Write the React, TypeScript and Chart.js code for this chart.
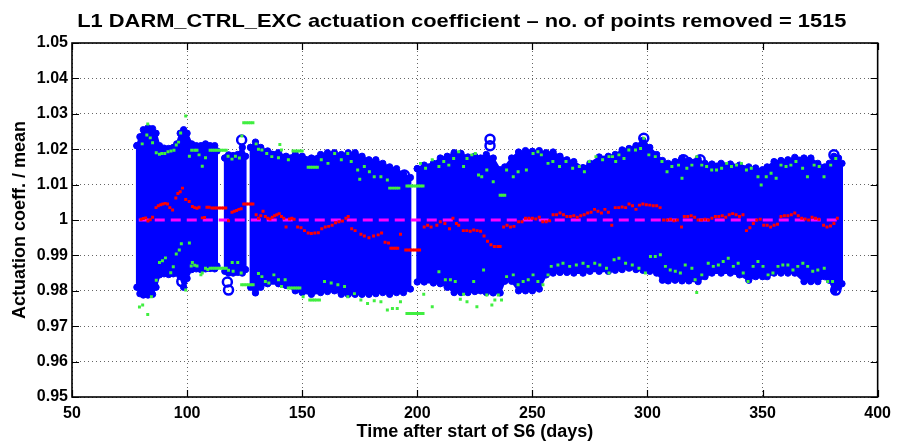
import React, { useEffect, useRef } from 'react';
import { Chart, registerables } from 'chart.js';

Chart.register(...registerables);

const TITLE = 'L1 DARM_CTRL_EXC actuation coefficient \u2013 no. of points removed = 1515';
const X_TITLE = 'Time after start of S6 (days)';
const Y_TITLE = 'Actuation coeff. / mean';

const xTickValues = [50, 100, 150, 200, 250, 300, 350, 400];
const xTickLabels = ['50', '100', '150', '200', '250', '300', '350', '400'];
const yTickValues = [0.95, 0.96, 0.97, 0.98, 0.99, 1.0, 1.01, 1.02, 1.03, 1.04, 1.05];
const yTickLabels = ['0.95', '0.96', '0.97', '0.98', '0.99', '1', '1.01', '1.02', '1.03', '1.04', '1.05'];

// Envelope of the blue cloud of individual measurements: [day, upper, lower]; null = data gap
const blueCloud: ([number, number, number] | null)[] = [
  [78.2, 1.021, 0.981], [79.5, 1.0235, 0.9792], [81, 1.0255, 0.9788], [83, 1.026, 0.9788], [85, 1.0258, 0.979],
  [86.5, 1.0245, 0.981], [88, 1.021, 0.9845], [90, 1.0203, 0.9848], [92, 1.0202, 0.9846], [94, 1.0205, 0.9848],
  [95.5, 1.0215, 0.985], [97, 1.0245, 0.984], [98.5, 1.0255, 0.981], [100, 1.0245, 0.9835], [102, 1.0215, 0.986],
  [104, 1.021, 0.9862], [106, 1.021, 0.986], [108, 1.0215, 0.9862], [110, 1.021, 0.9863], [112, 1.021, 0.9862],
  [113, 1.0195, 0.987],
  null,
  [116.4, 1.0175, 0.9855], [118, 1.0184, 0.985], [120, 1.0182, 0.985], [122, 1.0185, 0.9852], [124, 1.0205, 0.985],
  [125.4, 1.018, 0.986],
  null,
  [127.6, 1.0205, 0.981], [129.7, 1.022, 0.9794], [132, 1.0205, 0.981], [135, 1.0195, 0.982], [139.7, 1.019, 0.982],
  [143, 1.018, 0.9815], [147, 1.0185, 0.98], [150, 1.018, 0.9795], [154, 1.0175, 0.979], [158, 1.0185, 0.9795],
  [161, 1.019, 0.9798], [164, 1.019, 0.98], [167, 1.0185, 0.979], [170, 1.019, 0.979], [173, 1.019, 0.979],
  [176, 1.018, 0.979], [179, 1.017, 0.979], [182, 1.017, 0.9792], [185, 1.016, 0.9795], [188, 1.015, 0.979],
  [191, 1.0145, 0.9795], [194, 1.013, 0.9795], [197, 1.012, 0.9805],
  null,
  [200, 1.0145, 0.9825], [203, 1.0155, 0.9825], [207, 1.016, 0.9822], [210, 1.0175, 0.982], [213, 1.018, 0.981],
  [216, 1.019, 0.9795], [219, 1.0188, 0.9795], [222, 1.0178, 0.9795], [225, 1.018, 0.9798], [227.5, 1.0175, 0.98],
  [230, 1.0185, 0.9795], [233, 1.0175, 0.9794], [236, 1.0142, 0.9794], [238, 1.015, 0.9827], [241, 1.0175, 0.9827],
  [244, 1.0192, 0.98], [247, 1.0196, 0.98], [250, 1.0194, 0.98], [253, 1.0196, 0.9805], [256, 1.019, 0.9845],
  [259, 1.0192, 0.985], [262, 1.018, 0.9852], [265, 1.017, 0.9852], [268, 1.0165, 0.985], [272, 1.0148, 0.985],
  [275, 1.016, 0.9855], [279, 1.0178, 0.9855], [283, 1.018, 0.9855], [286, 1.0185, 0.9858], [289, 1.0198, 0.986],
  [292, 1.0202, 0.9864], [295, 1.021, 0.986], [298, 1.0225, 0.9858], [301, 1.0205, 0.9855], [304, 1.0185, 0.985],
  [306.5, 1.0168, 0.983], [309, 1.016, 0.9828], [312, 1.0165, 0.983], [315, 1.0175, 0.9828], [318, 1.0168, 0.9828],
  [322, 1.0172, 0.9826], [325, 1.016, 0.984], [328, 1.0158, 0.985], [332, 1.016, 0.985], [336, 1.0158, 0.985],
  [340, 1.0155, 0.9845], [344, 1.015, 0.983], [347, 1.0147, 0.984], [350, 1.0142, 0.984], [352, 1.015, 0.984],
  [355, 1.0165, 0.985], [358, 1.0168, 0.985], [361, 1.017, 0.985], [364, 1.0177, 0.985], [368, 1.0175, 0.9826],
  [371, 1.0175, 0.9826], [374, 1.016, 0.9826], [377, 1.015, 0.984], [379, 1.016, 0.983], [381, 1.018, 0.98],
  [383, 1.0175, 0.981], [384.5, 1.016, 0.982],
];

// isolated open circles sticking out of the cloud: [day, value]
const blueOutliers: [number, number][] = [
  [97.7, 0.9826], [118, 0.9802], [117.5, 0.9825], [123.7, 1.0226], [194.4, 1.0127],
  [231.6, 1.0228], [231.6, 1.021], [298.4, 1.0231], [315.7, 1.017], [322.9, 1.017],
  [381.8, 0.9802], [381, 1.0184],
];

// daily means (red)
const redMeans: [number, number][] = [
  [80, 1.0002], [81, 1.0004], [82, 1.0006], [83, 0.9997], [84, 1.0001], [85, 1.0008], [86.5, 1.0035],
  [87.5, 1.004], [88.5, 1.0043], [89.5, 1.0045], [90.5, 1.0047], [91.5, 1.0045], [92.5, 1.0035], [93.7, 1.0028],
  [95.1, 1.0062], [96, 1.0075], [97, 1.008], [98, 1.009], [99.4, 1.0058], [100.9, 1.0052], [102.3, 1.0038],
  [103.3, 1.0035], [104.3, 1.0033], [105.2, 1.0036], [106.6, 1.0006], [107.6, 1.0007], [108.6, 1.0036],
  [109.6, 1.0036], [110.8, 1.0034], [111.8, 1.0034], [112.8, 1.0034], [113.8, 1.0034], [114.8, 1.0034],
  [115.8, 1.0034], [116.8, 1.0034], [118, 0.9998], [119.5, 1.0022], [120.5, 1.0025], [121.5, 1.0027],
  [122.5, 1.003], [123.5, 1.0032], [124.6, 1.0045], [125.6, 1.0045], [126.6, 1.0045], [127.6, 1.0045],
  [128.6, 1.0045], [130, 1.0015], [131, 1.0005], [132, 1.0012], [133, 1.0025], [134, 1.001], [135, 1.0005],
  [136, 1.0003], [137, 1.0008], [138, 1.0012], [139, 1.0015], [140, 1.0018], [141, 1.001], [142, 1.0005],
  [143, 0.998], [144.5, 1.0003], [145.5, 1.0005], [146.5, 1.0002], [148, 0.998], [149.5, 0.9978], [151, 0.997],
  [152.6, 0.9963], [154, 0.9962], [155.5, 0.9963], [157, 0.9964], [158.5, 0.9975], [160, 0.998], [161.5, 0.9982],
  [163, 0.9985], [164.5, 0.9992], [166, 0.9995], [167.5, 0.9997], [169, 1.0005], [170, 1.001], [171.5, 0.9975],
  [173, 0.997], [175.5, 0.996], [177, 0.9955], [179, 0.995], [181, 0.9955], [183, 0.9958], [184.5, 0.9963],
  [186, 0.9937], [187.5, 0.9935], [188.5, 0.992], [189.5, 0.992], [190.5, 0.992], [191.5, 0.992], [192.7, 0.996],
  [195, 0.9915], [196, 0.9915], [197, 0.9915], [198, 0.9915], [199, 0.9915], [200, 0.9915], [201, 0.9915],
  [203, 0.998], [204.5, 0.9985], [206, 0.998], [208.5, 0.9985], [210, 0.9995], [212, 0.999], [214, 0.9975],
  [215.5, 1.0005], [217, 0.999], [218, 0.9985], [220, 0.997], [221.5, 0.997], [223, 0.9968], [224.5, 0.9972],
  [226, 0.997], [227.5, 0.9968], [229, 0.9955], [230.5, 0.994], [232, 0.993], [233.5, 0.9925], [235, 0.9925],
  [236, 0.9925], [237.5, 0.998], [239, 0.9985], [240.5, 0.998], [242, 0.9982], [244, 0.9995], [245.5, 0.9995],
  [247, 1.0005], [248.5, 1.0005], [250, 1.0005], [251.5, 1.0003], [253, 1.0008], [254.5, 0.9995], [256, 0.9995],
  [257.5, 0.9998], [259, 1.0015], [260.5, 1.0015], [262, 1.002], [263.5, 1.0015], [265, 1.001], [266.5, 1.001],
  [268, 1.0012], [269.5, 1.0008], [271, 1.0012], [272.5, 1.0015], [274, 1.002], [275.5, 1.0022], [277, 1.003],
  [278.5, 1.0025], [280, 1.002], [281.5, 1.003], [283, 1.0022], [284.5, 0.9985], [286, 1.0035], [287.5, 1.0035],
  [289, 1.0037], [290.5, 1.0035], [292, 1.0045], [293.5, 1.004], [295, 1.003], [296.5, 1.0042], [298, 1.0045],
  [299.5, 1.0043], [301, 1.0042], [302.5, 1.004], [304, 1.004], [305.5, 1.0035], [307, 1.0], [308.5, 1.0],
  [310, 1.0002], [311.5, 0.9998], [313, 1.0], [314.8, 0.998], [316, 1.001], [317.5, 1.001], [319, 1.0012],
  [320.5, 1.0008], [322, 1.0], [323.5, 1.0], [325, 1.0002], [326.5, 1.0], [328, 1.0005], [329.5, 1.001],
  [331, 1.001], [332.5, 1.0012], [334, 1.0008], [335.5, 1.0015], [337, 1.0018], [338.5, 1.0015], [340, 1.001],
  [341.5, 1.0015], [343, 0.997], [344.5, 0.9978], [346, 0.999], [347.5, 1.0], [349, 1.0002], [350.5, 0.9985],
  [352, 0.9985], [353.5, 0.998], [355, 0.9985], [356.5, 0.9988], [358, 1.001], [359.5, 1.0012], [361, 1.0012],
  [362.5, 1.0015], [364, 1.002], [365.5, 1.0012], [367, 1.0005], [368.5, 1.0003], [370, 1.0], [371.5, 1.0008],
  [373, 1.0005], [374.5, 1.0002], [376.5, 0.9985], [378, 0.998], [379.5, 0.9983], [381, 0.999], [382.5, 1.0005],
];

// daily upper extremes (green)
const greenUpper: [number, number][] = [
  [80.5, 1.0215], [82.5, 1.024], [82.9, 1.0271], [84, 1.0232], [85, 1.0218], [86.6, 1.019], [88, 1.0186],
  [89, 1.0188], [90.3, 1.0188], [91.7, 1.0193], [93, 1.0195], [94.3, 1.0197], [95.3, 1.0212], [96.3, 1.022],
  [97.2, 1.0246], [99.4, 1.0294], [101, 1.018], [102, 1.0197], [103.3, 1.0197], [104.3, 1.0197], [105.2, 1.0184],
  [106.6, 1.0152], [108, 1.0176], [110, 1.0197], [111, 1.0197], [112, 1.0197], [113, 1.0197], [114, 1.0197],
  [115, 1.0197], [116, 1.0197], [117, 1.0197], [117.8, 1.018], [119.5, 1.0172], [121, 1.018], [122.7, 1.0175],
  [123.8, 1.0237], [124.6, 1.0275], [125.6, 1.0275], [126.6, 1.0275], [127.6, 1.0275], [128.6, 1.0275],
  [130, 1.0215], [131, 1.02], [132.5, 1.0198], [134.6, 1.0188], [136.8, 1.0179], [139.7, 1.0176], [140.3, 1.0213],
  [141, 1.0198], [144, 1.017], [146, 1.0195], [147, 1.0195], [148, 1.0195], [149, 1.0195], [150, 1.0195],
  [152.6, 1.0149], [153.6, 1.0149], [154.6, 1.0149], [155.6, 1.0149], [156.6, 1.0149], [158.3, 1.017],
  [161.2, 1.016], [164.1, 1.0188], [167, 1.017], [169.8, 1.0188], [171.3, 1.0165], [174.1, 1.0141],
  [175, 1.0115], [177, 1.0151], [179.2, 1.0136], [181.3, 1.0122], [184.2, 1.0122], [187, 1.0113],
  [188, 1.009], [189, 1.009], [190, 1.009], [191, 1.009], [192, 1.009],
  [195.5, 1.0096], [196.5, 1.0096], [197.5, 1.0096], [198.5, 1.0096], [199.5, 1.0096], [200.5, 1.0096],
  [201.5, 1.0096], [202.5, 1.0096], [201.4, 1.016], [203.6, 1.0146], [206.5, 1.017], [209.4, 1.0151],
  [211.5, 1.0165], [213.7, 1.0155], [215.8, 1.0174], [218, 1.0193], [220.1, 1.0151], [221.6, 1.0174],
  [223.7, 1.0184], [225.2, 1.0188], [226.6, 1.0127], [228, 1.0122], [230.2, 1.0141], [233, 1.0108],
  [236, 1.007], [237, 1.007], [238, 1.007], [238.8, 1.0141], [241.7, 1.0122], [243.8, 1.0136], [247.4, 1.0141],
  [250.3, 1.0188], [252.4, 1.0193], [253.9, 1.0184], [256.8, 1.016], [258.9, 1.0165], [261.8, 1.0151],
  [264.6, 1.0165], [267.5, 1.0146], [270.4, 1.0151], [272.6, 1.0136], [274.7, 1.0165], [277.6, 1.0179],
  [280.5, 1.017], [283.3, 1.0179], [284.8, 1.0179], [286.2, 1.0165], [287.6, 1.0184], [289.8, 1.0174],
  [291.9, 1.0198], [294.8, 1.0198], [297, 1.0202], [298.4, 1.0231], [300.6, 1.0184], [303.4, 1.0179],
  [306.3, 1.0165], [308.5, 1.0136], [310.6, 1.0151], [313.5, 1.0155], [315, 1.0118], [317.1, 1.0146],
  [319.3, 1.0155], [321.4, 1.0179], [323.6, 1.0155], [325.7, 1.0151], [327.9, 1.0141], [330, 1.0141],
  [332.2, 1.0146], [334.4, 1.016], [336.5, 1.0151], [338.7, 1.0155], [340.8, 1.016], [343, 1.0141],
  [345.1, 1.0146], [348, 1.0122], [349.4, 1.0099], [351.6, 1.0122], [353.7, 1.0132], [355.9, 1.0118],
  [358, 1.0155], [360.2, 1.0151], [362.3, 1.0155], [364.5, 1.0165], [367.4, 1.0146], [369.5, 1.0122],
  [372.4, 1.0155], [374.6, 1.0151], [376.7, 1.0122], [379.6, 1.0155], [381.8, 1.0174],
];

// daily lower extremes (green)
const greenLower: [number, number][] = [
  [79.3, 0.9754], [80.7, 0.976], [82.9, 0.9733], [84.5, 0.9783], [86.6, 0.983], [88, 0.988], [89.3, 0.9885],
  [90.6, 0.9893], [92.9, 0.9851], [94, 0.9868], [95.3, 0.9904], [96.6, 0.9915], [97.5, 0.9933], [99.4, 0.9802],
  [101, 0.9935], [101.8, 0.987], [102.3, 0.988], [103.3, 0.9872], [104.3, 0.987], [106, 0.9845], [106.6, 0.985],
  [108, 0.9864], [109, 0.986], [110, 0.9864], [111, 0.9864], [112, 0.9864], [113, 0.9864], [114, 0.9864],
  [115, 0.9864], [116, 0.9864], [117, 0.9864], [118, 0.9858], [119.6, 0.988], [120, 0.9855], [122, 0.988],
  [123.5, 0.985], [123.7, 0.9817], [124.7, 0.9817], [125.7, 0.9817], [126.7, 0.9817], [127.7, 0.9817],
  [128.7, 0.9817], [131, 0.9849], [132.5, 0.984], [134, 0.9826], [135.5, 0.9822], [137.7, 0.9845],
  [139.7, 0.9831], [141, 0.9812], [142.6, 0.9831], [144, 0.9808], [145, 0.9808], [146, 0.9808], [147, 0.9808],
  [148, 0.9808], [149, 0.9808], [150.4, 0.9783], [153.3, 0.9774], [154.3, 0.9774], [155.3, 0.9774],
  [156.3, 0.9774], [157.5, 0.9774], [159.7, 0.9826], [162.6, 0.9822], [165.5, 0.9817], [168.4, 0.9812],
  [169.8, 0.9783], [172.7, 0.9792], [175.5, 0.9774], [178.4, 0.9764], [181.3, 0.9772], [184.2, 0.9769],
  [187, 0.9746], [189.2, 0.975], [191.3, 0.975], [192.7, 0.9769], [195.5, 0.9736], [196.5, 0.9736],
  [197.5, 0.9736], [198.5, 0.9736], [199.5, 0.9736], [200.5, 0.9736], [201.5, 0.9736], [202.5, 0.9736],
  [202.8, 0.979], [206.5, 0.9755], [209.4, 0.9854], [212.2, 0.9831], [214.4, 0.9831], [216.5, 0.9826],
  [218.7, 0.9776], [220.1, 0.979], [221.6, 0.9769], [224.5, 0.9826], [225.9, 0.9755], [228.8, 0.9859],
  [230.2, 0.9788], [232.4, 0.976], [233.7, 0.9774], [235.2, 0.9788], [236.6, 0.9774], [238.8, 0.984],
  [241.7, 0.9845], [243.8, 0.9817], [246, 0.9826], [248.2, 0.9831], [250.3, 0.9845], [252.4, 0.9826],
  [254.6, 0.9817], [256.8, 0.9845], [258.2, 0.9869], [261.1, 0.9873], [263.3, 0.9878], [266.2, 0.9869],
  [269.1, 0.9873], [272, 0.9878], [274.2, 0.9869], [277.1, 0.9878], [279.3, 0.9873], [282.2, 0.9864],
  [283.3, 0.985], [285.5, 0.9888], [287.6, 0.9892], [290.5, 0.9878], [293.4, 0.9873], [296.3, 0.9864],
  [299.1, 0.985], [301.3, 0.9897], [303.4, 0.9897], [305.6, 0.9902], [307.8, 0.9869], [309.9, 0.9859],
  [312.1, 0.9855], [314.3, 0.985], [316.4, 0.9873], [319.3, 0.9864], [320.7, 0.9831], [321.4, 0.9795],
  [323.6, 0.9845], [326.4, 0.9878], [328.6, 0.9869], [330.8, 0.9873], [332.9, 0.9883], [335.1, 0.9892],
  [337.3, 0.9869], [339.4, 0.9878], [341.6, 0.985], [343.7, 0.9826], [345.9, 0.9869], [348, 0.9883],
  [350.2, 0.9869], [352.4, 0.9845], [354.5, 0.985], [356.7, 0.9869], [358.8, 0.9873], [361, 0.9873],
  [363.2, 0.9859], [365.3, 0.9869], [367.5, 0.9878], [369.6, 0.9869], [371.8, 0.9855], [374, 0.9859],
  [376.8, 0.9864], [378.3, 0.9826], [380.4, 0.9826],
];

// normalised mean (magenta dashed)
const meanLineDays = [79, 383];
const meanLineValues = [1, 1];

const FONT = "'Liberation Sans', Arial, Helvetica, sans-serif";
const BLUE = '#0000ff';

function cloudPolygons() {
  const segments: [number, number, number][][] = [];
  let cur: [number, number, number][] = [];
  blueCloud.forEach((row) => {
    if (row === null) {
      if (cur.length) segments.push(cur);
      cur = [];
    } else cur.push(row);
  });
  if (cur.length) segments.push(cur);
  return segments.map((seg) => {
    const top = seg.map((r) => ({ x: r[0], y: r[1] }));
    const bottom = seg.slice().reverse().map((r) => ({ x: r[0], y: r[2] }));
    return [...top, ...bottom, top[0]];
  });
}

const toPts = (arr: [number, number][]) => arr.map(([x, y]) => ({ x, y }));

const framePlugin = {
  id: 'matlabFrame',
  afterDraw(chart: any) {
    const { ctx, chartArea: a, scales } = chart;
    ctx.save();
    ctx.strokeStyle = '#000';
    ctx.lineWidth = 1.2;
    ctx.beginPath();
    xTickValues.forEach((v) => {
      const px = Math.round(scales.x.getPixelForValue(v)) + 0.5;
      ctx.moveTo(px, a.bottom);
      ctx.lineTo(px, a.bottom - 7);
      ctx.moveTo(px, a.top);
      ctx.lineTo(px, a.top + 7);
    });
    yTickValues.forEach((v) => {
      const py = Math.round(scales.y.getPixelForValue(v)) + 0.5;
      ctx.moveTo(a.left, py);
      ctx.lineTo(a.left + 7, py);
      ctx.moveTo(a.right, py);
      ctx.lineTo(a.right - 7, py);
    });
    ctx.stroke();
    ctx.lineWidth = 1.6;
    ctx.strokeRect(a.left, a.top, a.right - a.left, a.bottom - a.top);
    // title
    ctx.fillStyle = '#000';
    ctx.font = `bold 19px ${FONT}`;
    ctx.textAlign = 'center';
    ctx.textBaseline = 'middle';
    ctx.translate((a.left + a.right) / 2 - 13, 22);
    ctx.scale(1.15, 1);
    ctx.fillText(TITLE, 0, 0);
    ctx.restore();
  },
};

export default function App() {
  const ref = useRef<HTMLCanvasElement>(null);
  useEffect(() => {
    const polys = cloudPolygons();
    const datasets: any[] = [
      {
        label: 'mean',
        data: toPts(redMeans),
        pointStyle: 'rect',
        pointRadius: 2.1,
        backgroundColor: '#ff0000',
        borderWidth: 0,
        order: 1,
      },
      {
        label: 'unity',
        data: meanLineDays.map((d, i) => ({ x: d, y: meanLineValues[i] })),
        showLine: true,
        borderColor: '#ff00ff',
        borderWidth: 3,
        borderDash: [10, 6],
        pointRadius: 0,
        order: 2,
      },
      {
        label: 'upper',
        data: toPts(greenUpper),
        pointStyle: 'rect',
        pointRadius: 2.1,
        backgroundColor: '#40ee40',
        borderWidth: 0,
        order: 3,
      },
      {
        label: 'lower',
        data: toPts(greenLower),
        pointStyle: 'rect',
        pointRadius: 2.1,
        backgroundColor: '#40ee40',
        borderWidth: 0,
        order: 3,
      },
      {
        label: 'outliers',
        data: toPts(blueOutliers),
        pointStyle: 'circle',
        pointRadius: 4.5,
        borderWidth: 2.5,
        borderColor: BLUE,
        backgroundColor: 'rgba(255,255,255,0)',
        order: 4,
      },
      ...polys.map((p) => ({
        label: 'cloud',
        data: p,
        showLine: true,
        fill: 'shape',
        backgroundColor: BLUE,
        borderColor: BLUE,
        borderWidth: 2,
        borderJoinStyle: 'round',
        pointStyle: 'circle',
        pointRadius: 3.2,
        pointBackgroundColor: BLUE,
        pointBorderColor: BLUE,
        pointBorderWidth: 1,
        tension: 0,
        order: 5,
      })),
    ];

    const tickFont = { family: FONT, size: 16, weight: 'bold' as const };
    const titleFont = { family: FONT, size: 18, weight: 'bold' as const };
    const findLabel = (vals: number[], labels: string[], v: number) => {
      const i = vals.findIndex((t) => Math.abs(t - v) < 1e-9);
      return i >= 0 ? labels[i] : '';
    };

    const chart = new Chart(ref.current as HTMLCanvasElement, {
      type: 'scatter',
      data: { datasets },
      plugins: [framePlugin],
      options: {
        animation: false,
        responsive: false,
        maintainAspectRatio: false,
        events: [],
        layout: { padding: { top: 43, right: 15, left: 0, bottom: 0 } },
        plugins: {
          legend: { display: false },
          tooltip: { enabled: false },
          title: { display: false },
        },
        scales: {
          x: {
            type: 'linear',
            position: 'bottom',
            min: 50,
            max: 400,
            afterBuildTicks: (s: any) => {
              s.ticks = xTickValues.map((v) => ({ value: v }));
            },
            afterFit: (s: any) => {
              s.height = 50;
            },
            ticks: {
              autoSkip: false,
              maxRotation: 0,
              padding: 7,
              color: '#000',
              font: tickFont,
              callback: (v: any) => findLabel(xTickValues, xTickLabels, Number(v)),
            },
            grid: { color: 'rgba(0,0,0,0.6)', lineWidth: 1, drawTicks: false },
            border: { display: false, dash: [1, 3] },
            title: {
              display: true,
              text: X_TITLE,
              color: '#000',
              font: titleFont,
              padding: { top: 0, bottom: 4 },
            },
          },
          y: {
            type: 'linear',
            position: 'left',
            min: 0.95,
            max: 1.05,
            afterBuildTicks: (s: any) => {
              s.ticks = yTickValues.map((v) => ({ value: v }));
            },
            afterFit: (s: any) => {
              s.width = 72;
            },
            ticks: {
              autoSkip: false,
              padding: 4,
              color: '#000',
              font: tickFont,
              callback: (v: any) => findLabel(yTickValues, yTickLabels, Number(v)),
            },
            grid: { color: 'rgba(0,0,0,0.6)', lineWidth: 1, drawTicks: false },
            border: { display: false, dash: [1, 3] },
            title: {
              display: true,
              text: Y_TITLE,
              color: '#000',
              font: titleFont,
              padding: { top: 9, bottom: 0 },
            },
          },
        },
      } as any,
    });
    return () => chart.destroy();
  }, []);

  return (
    <div style={{ position: 'absolute', left: 0, top: 0, width: 898, height: 447, background: '#fff' }}>
      <canvas ref={ref} width={898} height={447} style={{ display: 'block', width: 898, height: 447 }} />
    </div>
  );
}
